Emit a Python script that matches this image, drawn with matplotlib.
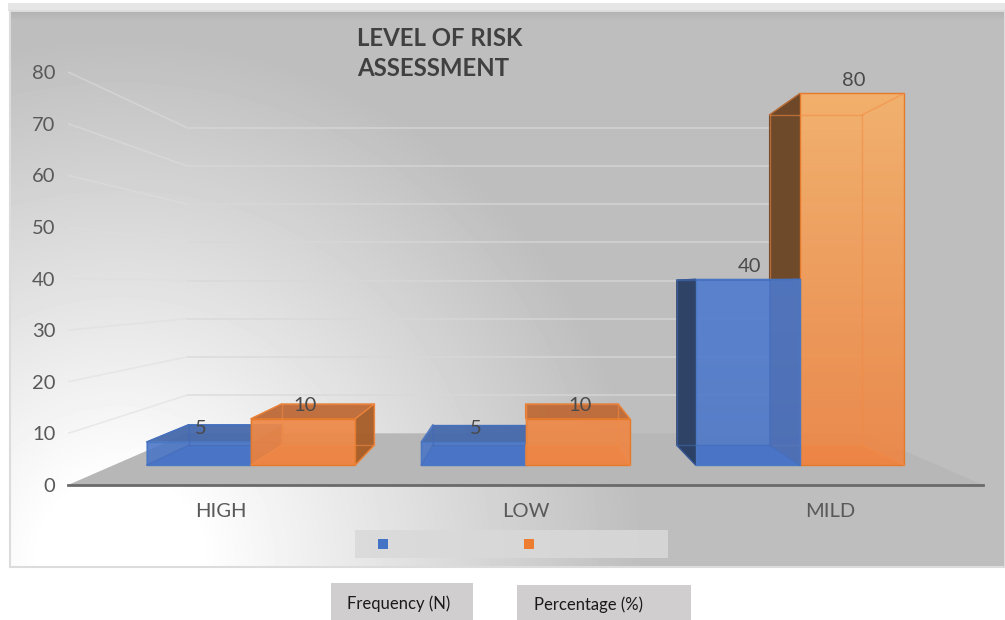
import numpy as np
import matplotlib
matplotlib.use("Agg")
import matplotlib.pyplot as plt
from matplotlib.patches import Polygon, Rectangle

plt.rcParams["font.family"] = ["Lato", "DejaVu Sans"]

# Chart content
title_lines = ["LEVEL OF RISK", "ASSESSMENT"]
categories = ["HIGH", "LOW", "MILD"]
frequency = [5, 5, 40]
percentage = [10, 10, 80]
series_names = ["Frequency (N)", "Percentage (%)"]
value_ticks = [0, 10, 20, 30, 40, 50, 60, 70, 80]

# Perspective of the 3-D box: depth scale of each plane and the vanishing point
VP_X, VP_Y = 1.0, 38.5
S_BAR_FRONT, S_BAR_BACK, S_WALL = 0.90, 0.80, 0.74
BAR_W = 0.38
W, H = 1005, 620


def proj(x, y, s):
    return (VP_X + s * (x - VP_X), VP_Y + s * (y - VP_Y))


fig = plt.figure(figsize=(W / 100, H / 100), dpi=100, facecolor="white")

# Page layer in pixel coordinates: panel background, legend strip, caption boxes
page = fig.add_axes([0, 0, 1, 1], zorder=0)
page.set_xlim(0, W)
page.set_ylim(H, 0)
page.axis("off")
page.add_patch(Rectangle((8, 3), 997, 8, fc="#e6e6e6", ec="none"))
yy, xx = np.mgrid[11:567, 11:1005]
dist = np.hypot(xx - 120, yy - 560)
shade = np.clip(255 - 65 * (dist - 80) / 440, 190, 255)
shade[:10] -= (10 - yy[:10] + 11) * 1.2
page.imshow(shade, cmap="gray", vmin=0, vmax=255, extent=(11, 1005, 567, 11),
            aspect="auto", interpolation="bilinear", zorder=1)
page.set_xlim(0, W)
page.set_ylim(H, 0)
page.add_patch(Rectangle((10, 11), 995, 556, fc="none", ec="#dcdcdc", lw=1.5, zorder=2))

# Chart layer: x in category units, y in value units on the front plane
ax = fig.add_axes([68 / W, (H - 485) / H, 915 / W, (485 - 72) / H], zorder=1)
ax.patch.set_alpha(0)
ax.set_xlim(-0.5, 2.5)
ax.set_ylim(0, 80)
for name in ("top", "left", "right"):
    ax.spines[name].set_visible(False)
ax.spines["bottom"].set_color("#6a6a6a")
ax.spines["bottom"].set_linewidth(2)
ax.set_xticks(range(len(categories)), categories)
ax.set_yticks(value_ticks)
ax.tick_params(axis="both", length=0, labelsize=14.5, labelcolor="#595959")
ax.tick_params(axis="x", pad=13)
ax.tick_params(axis="y", pad=9)

z = 2
left, right = -0.5, 2.5

# Floor of the box
ax.add_patch(Polygon([proj(left, 0, 1), proj(right, 0, 1),
                      proj(right, 0, S_WALL), proj(left, 0, S_WALL)],
                     fc="#b7b7b7", ec="none", zorder=z, clip_on=False))
# Wall gridlines: faint on the left wall, a little stronger on the back wall
for v in value_ticks[1:]:
    ax.plot(*zip(proj(left, v, 1), proj(left, v, S_WALL)), color="#dedede", lw=1.2,
            alpha=0.55, zorder=z + 1, clip_on=False, solid_capstyle="butt")
    ax.plot(*zip(proj(left, v, S_WALL), proj(right, v, S_WALL)), color="#d8d8d8", lw=1.3,
            alpha=0.7, zorder=z + 1, clip_on=False, solid_capstyle="butt")

z = 5
BLUE = dict(low=(0.29, 0.46, 0.78), high=(0.32, 0.50, 0.85), edge="#4a78c4",
            side=(0.17, 0.25, 0.39), top=(0.27, 0.41, 0.67), front_alpha=0.82,
            inner=(0.26, 0.42, 0.72))
ORANGE = dict(low=(0.93, 0.52, 0.27), high=(0.96, 0.69, 0.41), edge="#e57a2c",
              side=(0.42, 0.27, 0.15), top=(0.74, 0.41, 0.21), side_r=(0.65, 0.37, 0.16),
              front_alpha=0.9, inner=(0.95, 0.55, 0.28))


def face(points, color, alpha, edge, lw=0.8):
    global z
    z += 1
    ax.add_patch(Polygon(points, fc=(*color, alpha), ec=edge, lw=lw, zorder=z,
                         clip_on=False, joinstyle="round"))


def gradient_face(points, c_bottom, c_top, alpha, edge):
    """Front face with a vertical colour ramp, clipped to the face outline."""
    global z
    z += 1
    xs, ys = zip(*points)
    ramp = np.linspace(0, 1, 64)[:, None]
    rgba = np.zeros((64, 1, 4))
    rgba[..., :3] = (1 - ramp)[..., None] * c_top + ramp[..., None] * c_bottom
    rgba[..., 3] = alpha
    im = ax.imshow(rgba, extent=(min(xs), max(xs), min(ys), max(ys)), aspect="auto",
                   origin="upper", zorder=z, interpolation="bilinear")
    im.set_clip_path(Polygon(points, transform=ax.transData))
    z += 1
    ax.add_patch(Polygon(points, fc="none", ec=edge, lw=1.0, zorder=z, clip_on=False))


def draw_bar(x0, x1, v, style):
    edge = style["edge"]
    f = lambda x, y: proj(x, y, S_BAR_FRONT)
    b = lambda x, y: proj(x, y, S_BAR_BACK)
    low = np.array(style["low"])
    high = np.array(style["high"])
    top_color = low + (high - low) * v / 80
    soft = (*low, 0.45)

    # back, floor and the faces turned away, seen through the front
    face([b(x0, 0), b(x1, 0), b(x1, v), b(x0, v)], tuple(top_color), 0.35, soft)
    face([f(x0, 0), f(x1, 0), b(x1, 0), b(x0, 0)], tuple(low), 0.95, soft)
    if x1 >= VP_X:
        face([f(x1, 0), b(x1, 0), b(x1, v), f(x1, v)], tuple(top_color), 0.35, soft)
    if x0 <= VP_X:
        face([f(x0, 0), b(x0, 0), b(x0, v), f(x0, v)], tuple(top_color), 0.35, soft)
    if v >= VP_Y:
        face([f(x0, v), f(x1, v), b(x1, v), b(x0, v)], tuple(top_color), 0.6, soft)
    # faces turned toward the viewer
    if x1 < VP_X:
        face([f(x1, 0), b(x1, 0), b(x1, v), f(x1, v)], style.get("side_r", style["side"]), 0.95, edge)
    if x0 > VP_X:
        face([f(x0, 0), b(x0, 0), b(x0, v), f(x0, v)], style["side"], 0.97, style["side"])
    if v < VP_Y:
        face([f(x0, v), f(x1, v), b(x1, v), b(x0, v)], style["top"], 0.92, edge)
    # front
    gradient_face([f(x0, 0), f(x1, 0), f(x1, v), f(x0, v)], low, top_color, style["front_alpha"], edge)

    # back edges showing faintly through the translucent front
    inner = (*style["inner"], 0.55)
    global z
    z += 1
    for a, c in ((f(x0, v), b(x0, v)), (f(x1, v), b(x1, v)), (f(x0, 0), b(x0, 0)), (f(x1, 0), b(x1, 0)),
                 (b(x0, v), b(x1, v)), (b(x1, v), b(x1, 0)), (b(x1, 0), b(x0, 0)), (b(x0, 0), b(x0, v))):
        ax.plot(*zip(a, c), color=inner, lw=1.0, zorder=z, clip_on=False)


# Bars nearer the vanishing point go first so outer bars overlap them correctly
for i in range(len(categories)):
    pair = [(i - BAR_W, i, frequency[i], BLUE), (i, i + BAR_W, percentage[i], ORANGE)]
    if i > VP_X:
        pair.reverse()
    for x0, x1, v, style in pair:
        draw_bar(x0, x1, v, style)

# Value labels just above each front top edge
z += 10
for i in range(len(categories)):
    for centre, v in ((i - BAR_W / 2, frequency[i]), (i + BAR_W / 2, percentage[i])):
        ax.annotate(str(v), xy=proj(centre, v, S_BAR_FRONT), xytext=(2, 13),
                    textcoords="offset pixels", ha="center", va="center",
                    fontsize=14.5, color="#4a4a4a", zorder=z, annotation_clip=False)

# Overlay in pixel coordinates: title, empty legend strip and its caption boxes
top = fig.add_axes([0, 0, 1, 1], zorder=2)
top.patch.set_alpha(0)
top.set_xlim(0, W)
top.set_ylim(H, 0)
top.axis("off")
for y, line in zip((38, 69), title_lines):
    top.text(357, y, line, fontsize=17.3, fontweight="bold", color="#404040",
             ha="left", va="center")
top.add_patch(Rectangle((355, 530), 313, 28, fc="#d9d9d9", ec="none", alpha=0.85))
top.add_patch(Rectangle((378, 539), 10, 10, fc="#4472c4", ec="none"))
top.add_patch(Rectangle((524, 539), 10, 10, fc="#ed7d31", ec="none"))
top.add_patch(Rectangle((331, 583), 142, 37, fc="#d0cece", ec="none"))
top.add_patch(Rectangle((517, 585), 174, 35, fc="#d0cece", ec="none"))
top.text(399, 604, series_names[0], fontsize=12, color="#1a1a1a", ha="center", va="center")
top.text(589, 605, series_names[1], fontsize=12, color="#1a1a1a", ha="center", va="center")

fig.savefig("out.png", dpi=100)
